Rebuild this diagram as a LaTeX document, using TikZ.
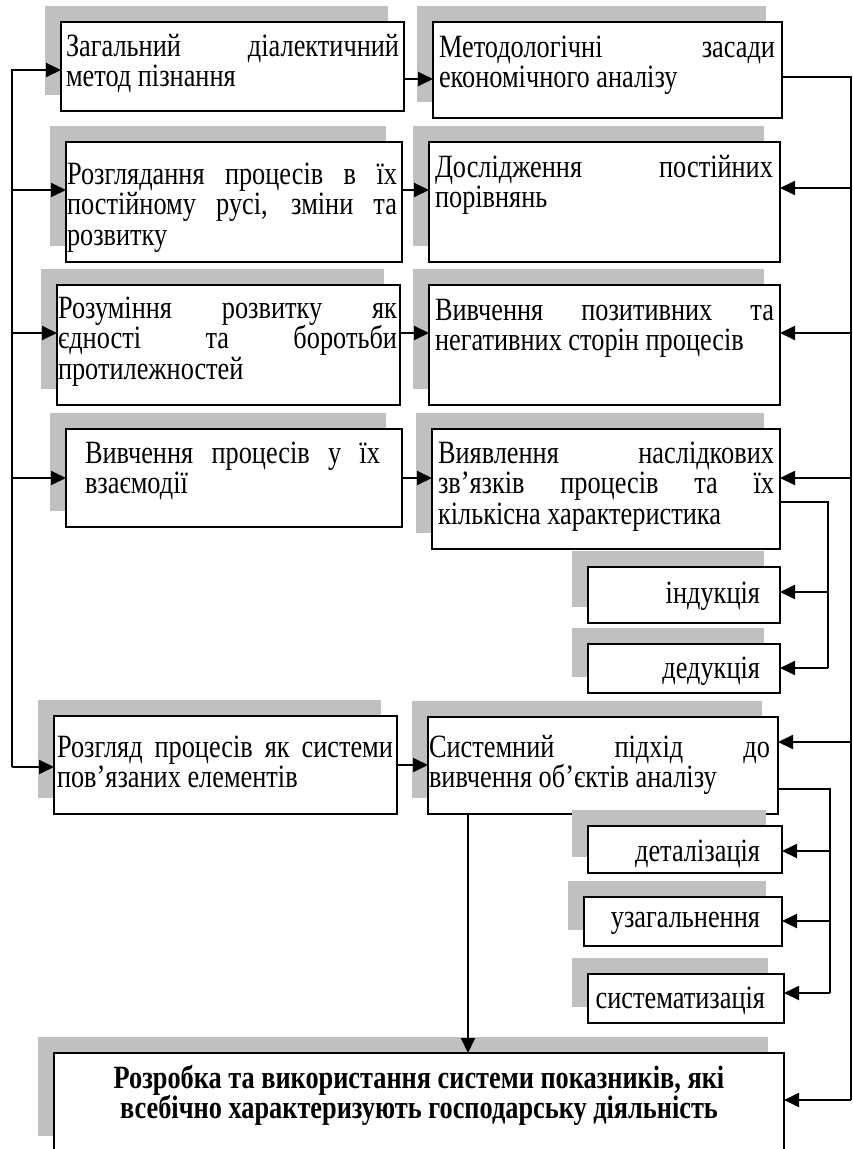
\documentclass[tikz,border=0pt]{standalone}
\usepackage{fontspec}
\setmainfont[FakeStretch=0.81]{Liberation Serif}
\usetikzlibrary{arrows.meta,shadows}
\definecolor{shadowgray}{RGB}{192,192,192}
\newcommand\bxt[6]{\parbox[t][#2][t]{#1}{\fontsize{32.5pt}{30.5pt}\selectfont\hyphenpenalty=10000\exhyphenpenalty=10000\leftskip=#3\relax\rightskip=#4\relax\rule{0pt}{#5}#6\par}}
\tikzset{
  bx/.style={draw, line width=1.4pt, fill=white, anchor=north west, inner sep=0pt, outer sep=0pt,
    general shadow={draw=none, fill=shadowgray, shadow xshift=-16pt, shadow yshift=16pt}},
  ln/.style={draw, line width=1.5pt},
  arr/.style={draw, line width=1.9pt, -{Triangle[length=15pt,width=14pt]}}
}
\begin{document}
\begin{tikzpicture}[x=1pt,y=-1pt]
\useasboundingbox (0,0) rectangle (853,1149);
\clip (0,0) rectangle (853,1149);
% boxes
\node[bx] (b1) at (61,22) {\bxt{343pt}{89pt}{5pt}{5pt}{34pt}{Загальний діалектичний\linebreak метод пізнання}};
\node[bx] (b2) at (433,22) {\bxt{349pt}{96pt}{6pt}{7pt}{35pt}{Методологічні засади\linebreak економічного аналізу}};
\node[bx] (b3) at (66,142) {\bxt{336pt}{120pt}{1pt}{5pt}{42pt}{Розглядання процесів в їх\linebreak постійному русі, зміни та\linebreak розвитку}};
\node[bx] (b4) at (429,142) {\bxt{351pt}{120pt}{6pt}{7pt}{35pt}{Дослідження постійних\linebreak порівнянь}};
\node[bx] (b5) at (57,285) {\bxt{343pt}{120pt}{1pt}{3pt}{33pt}{Розуміння розвитку як\linebreak єдності та боротьби\linebreak протилежностей}};
\node[bx] (b6) at (429,285) {\bxt{351pt}{120pt}{6pt}{6pt}{35pt}{Вивчення позитивних та\linebreak негативних сторін процесів}};
\node[bx] (b7) at (66,429) {\bxt{336pt}{98pt}{19pt}{22pt}{34pt}{Вивчення процесів у їх\linebreak взаємодії}};
\node[bx] (b8) at (432,429) {\bxt{348pt}{120pt}{6pt}{6pt}{34pt}{Виявлення наслідкових\linebreak зв’язків процесів та їх\linebreak кількісна характеристика}};
\node[bx] (ind) at (588,567) {\bxt{192pt}{56pt}{0pt}{20pt}{36pt}{\parfillskip=0pt\hfill індукція}};
\node[bx] (ded) at (588,644) {\bxt{192pt}{49pt}{0pt}{20pt}{34pt}{\parfillskip=0pt\hfill дедукція}};
\node[bx] (b9) at (54,716) {\bxt{343pt}{98pt}{3pt}{4pt}{41pt}{Розгляд процесів як системи\linebreak пов’язаних елементів}};
\node[bx] (b10) at (428,717) {\bxt{350pt}{97pt}{1pt}{8pt}{40pt}{Системний підхід до\linebreak вивчення об’єктів аналізу}};
\node[bx] (det) at (588,826) {\bxt{194pt}{47pt}{0pt}{22pt}{35pt}{\parfillskip=0pt\hfill деталізація}};
\node[bx] (uzag) at (584,897) {\bxt{198pt}{49pt}{0pt}{22pt}{30pt}{\parfillskip=0pt\hfill узагальнення}};
\node[bx] (sys) at (588,974) {\bxt{196pt}{49pt}{0pt}{19pt}{34pt}{\parfillskip=0pt\hfill систематизація}};
\node[bx] (fin) at (54,1053) {\bxt{730pt}{99pt}{0pt}{0pt}{35pt}{\centering\bfseries Розробка та використання системи показників, які\\ всебічно характеризують господарську діяльність}};
% left bus
\coordinate (Ltop) at (12,70);
\coordinate (Lbot) at (12,767);
\coordinate (L3) at (12,190);
\coordinate (L5) at (12,333);
\coordinate (L7) at (12,478);
\draw[arr] (Lbot) -- (Ltop) -- (Ltop -| b1.west);
\draw[arr] (Lbot) -- (Lbot -| b9.west);
\draw[arr] (L3) -- (L3 -| b3.west);
\draw[arr] (L5) -- (L5 -| b5.west);
\draw[arr] (L7) -- (L7 -| b7.west);
% box to box
\coordinate (h1) at (0,79);
\coordinate (h3) at (0,190);
\coordinate (h5) at (0,333);
\coordinate (h7) at (0,478);
\coordinate (h9) at (0,765);
\draw[arr] (b1.east |- h1) -- (b2.west |- h1);
\draw[arr] (b3.east |- h3) -- (b4.west |- h3);
\draw[arr] (b5.east |- h5) -- (b6.west |- h5);
\draw[arr] (b7.east |- h7) -- (b8.west |- h7);
\draw[arr] (b9.east |- h9) -- (b10.west |- h9);
% right bus
\coordinate (R1) at (851,77);
\coordinate (Rbot) at (851,1100);
\coordinate (R4) at (851,188);
\coordinate (R6) at (851,333);
\coordinate (R8) at (851,478);
\coordinate (R10) at (851,742);
\draw[ln] (b2.east |- R1) -- (R1) -- (Rbot);
\draw[arr] (Rbot) -- (Rbot -| fin.east);
\draw[arr] (R4) -- (R4 -| b4.east);
\draw[arr] (R6) -- (R6 -| b6.east);
\draw[arr] (R8) -- (R8 -| b8.east);
\draw[arr] (R10) -- (R10 -| b10.east);
% sub-branch 1
\coordinate (S1) at (828,502);
\coordinate (S1m) at (828,592);
\coordinate (S1b) at (828,668);
\draw[ln] (S1 -| b8.east) -- (S1) -- (S1b);
\draw[arr] (S1b) -- (S1b -| ded.east);
\draw[arr] (S1m) -- (S1m -| ind.east);
% sub-branch 2
\coordinate (S2) at (830,789);
\coordinate (S2a) at (830,851);
\coordinate (S2m) at (830,921);
\coordinate (S2b) at (830,993);
\draw[ln] (S2 -| b10.east) -- (S2) -- (S2b);
\draw[arr] (S2b) -- (S2b -| sys.east);
\draw[arr] (S2a) -- (S2a -| det.east);
\draw[arr] (S2m) -- (S2m -| uzag.east);
% vertical to final
\coordinate (v) at (468,0);
\draw[arr] (b10.south -| v) -- (fin.north -| v);
\end{tikzpicture}
\end{document}
